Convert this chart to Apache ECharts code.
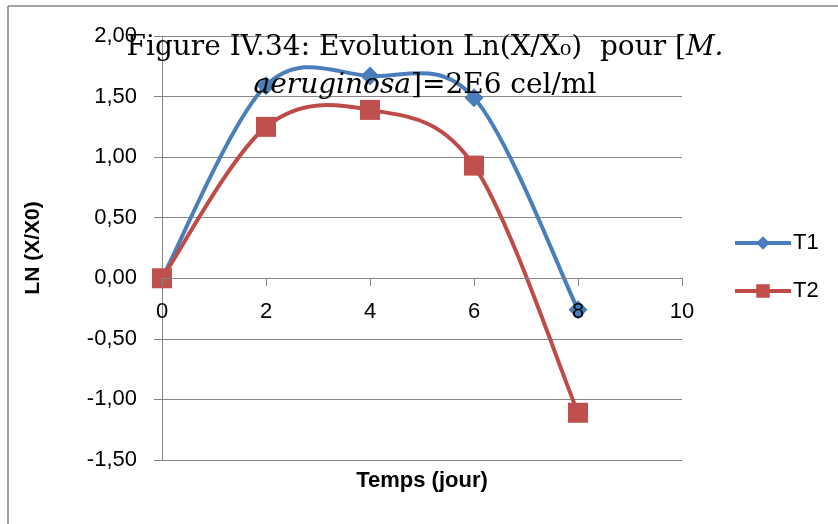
<!DOCTYPE html>
<html>
<head>
<meta charset="utf-8">
<script src="https://cdn.jsdelivr.net/npm/echarts@6/dist/echarts.min.js"></script>
<style>
  html, body { margin: 0; padding: 0; background: #fff; }
  #chart { width: 838px; height: 524px; }
</style>
</head>
<body>
<div id="chart"></div>
<script>
  // données
  const jours = [0, 2, 4, 6, 8];
  const t1 = [0, 1.59, 1.67, 1.49, -0.26];
  const t2 = [0, 1.25, 1.39, 0.93, -1.11];

  const pairs = (ys) => jours.map((x, i) => [x, ys[i]]);
  const virgule = (v) => v.toFixed(2).replace('.', ',');

  // courbe lissée façon Excel (Catmull-Rom), calculée avec les axes d'ECharts
  function courbe(nom, ys, couleur) {
    return {
      name: nom, type: 'custom', silent: true,
      data: [[jours[0], ys[0]]],
      renderItem: (params, api) => {
        const p = jours.map((x, i) => api.coord([x, ys[i]]));
        const n = p.length;
        let d = 'M' + p[0][0] + ',' + p[0][1];
        for (let i = 0; i < n - 1; i++) {
          const a = p[Math.max(i - 1, 0)], b = p[i], c = p[i + 1], e = p[Math.min(i + 2, n - 1)];
          const c1 = [b[0] + (c[0] - a[0]) / 6, b[1] + (c[1] - a[1]) / 6];
          const c2 = [c[0] - (e[0] - b[0]) / 6, c[1] - (e[1] - b[1]) / 6];
          d += ' C' + c1.join(',') + ' ' + c2.join(',') + ' ' + c.join(',');
        }
        return {
          type: 'path',
          shape: { pathData: d },
          style: { fill: 'none', stroke: couleur, lineWidth: 4, lineJoin: 'round' }
        };
      }
    };
  }

  const chart = echarts.init(document.getElementById('chart'));
  chart.setOption({
    animation: false,
    grid: { left: 162, right: 156, top: 36, bottom: 64, outerBoundsMode: 'none' },
    xAxis: {
      type: 'value',
      min: 0, max: 10, interval: 2,
      offset: -182, // l'axe coupe en y = 0
      z: 5, // les libellés passent au-dessus des marqueurs
      name: 'Temps (jour)',
      nameLocation: 'middle',
      nameGap: 192,
      nameTextStyle: { fontFamily: 'Liberation Sans', fontWeight: 'bold', fontSize: 22, color: '#000' },
      axisLine: { onZero: false, lineStyle: { color: '#868686', width: 1 } },
      axisTick: { show: true, length: 8, lineStyle: { color: '#868686' } },
      axisLabel: { fontFamily: 'Liberation Sans', fontSize: 22, color: '#000', margin: 23 },
      splitLine: { show: false }
    },
    yAxis: {
      type: 'value',
      min: -1.5, max: 2, interval: 0.5,
      name: 'LN (X/X0)',
      nameLocation: 'middle',
      nameGap: 118,
      nameRotate: 90,
      nameTextStyle: { fontFamily: 'Liberation Sans', fontWeight: 'bold', fontSize: 21, color: '#000' },
      axisLine: { show: true, onZero: false, lineStyle: { color: '#868686', width: 1 } },
      axisTick: { show: true, length: 8, lineStyle: { color: '#868686' } },
      axisLabel: { fontFamily: 'Liberation Sans', fontSize: 22, color: '#000', margin: 25, formatter: virgule },
      splitLine: { lineStyle: { color: '#868686', width: 1 } }
    },
    legend: {
      orient: 'vertical',
      left: 733, top: 232, padding: 0,
      itemWidth: 56, itemHeight: 17, itemGap: 26,
      lineStyle: { width: 4, opacity: 1 },
      textStyle: { fontFamily: 'Liberation Sans', fontSize: 22, color: '#000', padding: [0, 0, 0, -3] },
      data: ['T1', 'T2']
    },
    series: [
      courbe('courbe T1', t1, '#4A7EBB'),
      {
        name: 'T1', type: 'line',
        data: pairs(t1),
        symbol: 'diamond', symbolSize: 19,
        lineStyle: { color: '#4A7EBB', width: 4, opacity: 0 },
        itemStyle: { color: '#4A7EBB' }
      },
      courbe('courbe T2', t2, '#BE4B48'),
      {
        name: 'T2', type: 'line',
        data: pairs(t2),
        symbol: 'rect', symbolSize: 20,
        lineStyle: { color: '#BE4B48', width: 4, opacity: 0 },
        itemStyle: { color: '#C0504D' }
      }
    ],
    graphic: [
      // cadre du graphique
      { type: 'line', shape: { x1: 8, y1: 6, x2: 838, y2: 6 }, style: { stroke: '#868686', lineWidth: 1.5 } },
      { type: 'line', shape: { x1: 8, y1: 6, x2: 8, y2: 524 }, style: { stroke: '#868686', lineWidth: 1.5 } },
      // titre
      {
        type: 'text', x: 425, y: 48, z: 100,
        style: {
          text: 'Figure IV.34: Evolution Ln(X/X₀)  pour [{i|M.}',
          align: 'center', verticalAlign: 'middle',
          fontFamily: 'DejaVu Serif', fontSize: 28, fill: '#000',
          rich: { i: { fontFamily: 'DejaVu Serif', fontStyle: 'italic', fontSize: 28 } }
        }
      },
      {
        type: 'text', x: 425, y: 86, z: 100,
        style: {
          text: '{i|aeruginosa}]=2E6 cel/ml',
          align: 'center', verticalAlign: 'middle',
          fontFamily: 'DejaVu Serif', fontSize: 28, fill: '#000',
          rich: { i: { fontFamily: 'DejaVu Serif', fontStyle: 'italic', fontSize: 28 } }
        }
      }
    ]
  });
</script>
</body>
</html>
